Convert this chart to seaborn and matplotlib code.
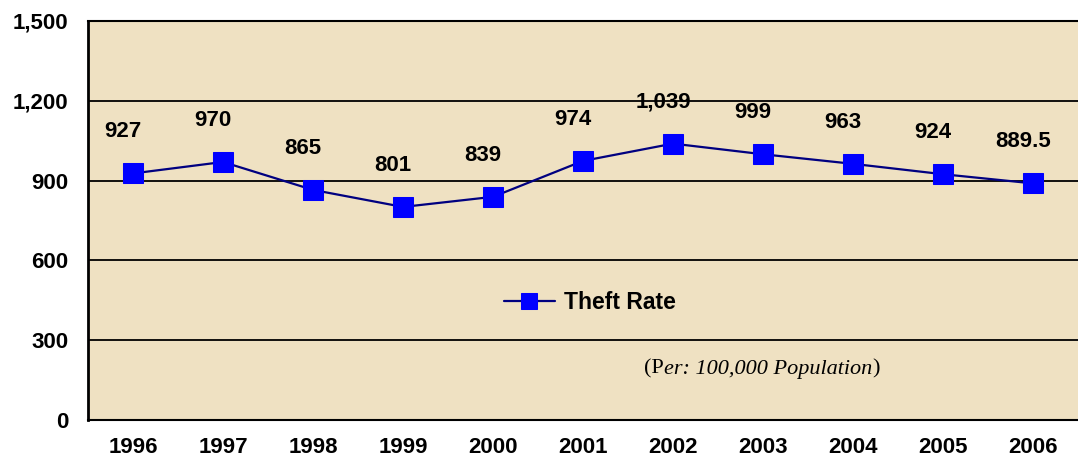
import matplotlib.pyplot as plt
import seaborn as sns
import numpy as np
import pandas as pd

years = ["1996", "1997", "1998", "1999", "2000", "2001", "2002", "2003", "2004", "2005", "2006"]
theft_rate = [927, 970, 865, 801, 839, 974, 1039, 999, 963, 924, 889.5]
point_labels = ["927", "970", "865", "801", "839", "974", "1,039", "999", "963", "924", "889.5"]
y_ticks = [0, 300, 600, 900, 1200, 1500]

df = pd.DataFrame({"pos": np.arange(len(years)), "rate": theft_rate})

sns.set_theme(style="white")
plt.rcParams["font.family"] = ["Liberation Sans", "DejaVu Sans"]
plt.rcParams["text.color"] = "black"
plt.rcParams["xtick.color"] = "black"
plt.rcParams["ytick.color"] = "black"

fig = plt.figure(figsize=(10.78, 4.66), dpi=100)
ax = fig.add_axes([88 / 1078, 1 - 420 / 466, 1 - 88 / 1078, 399 / 466])
ax.set_facecolor("#efe1c2")

for y in y_ticks[1:-1]:
    ax.axhline(y, color="black", lw=1.3, zorder=1)

sns.lineplot(data=df, x="pos", y="rate", ax=ax, color="#000080", lw=1.6,
             marker="s", markersize=15, markerfacecolor="#0000ff",
             markeredgecolor="#0000ff", label="Theft Rate", zorder=3)

# data labels sit a bit left of the markers, like the original
for i, (v, lab) in enumerate(zip(theft_rate, point_labels)):
    ax.annotate(lab, (i, v), xytext=(-7, 30), textcoords="offset points",
                ha="center", va="center", fontsize=16, fontweight="bold")

ax.set_ylim(0, 1500)
ax.set_xlim(-0.49, 10.35)
ax.set_yticks(y_ticks)
ax.set_yticklabels([f"{t:,}" for t in y_ticks], fontsize=16, fontweight="bold")
ax.set_xticks(np.arange(len(years)))
ax.set_xticklabels(years, fontsize=16, fontweight="bold")
ax.set_xticks(np.arange(len(years) + 1) - 0.5, minor=True)
ax.tick_params(axis="x", which="major", length=0, pad=12)
ax.tick_params(axis="x", which="minor", length=4, width=1.5, color="black", direction="out")
ax.tick_params(axis="y", length=6, width=1.3, color="black", direction="out", pad=8)
ax.set_xlabel("")
ax.set_ylabel("")

ax.spines["left"].set_color("black")
ax.spines["left"].set_linewidth(2)
ax.spines["bottom"].set_color("black")
ax.spines["bottom"].set_linewidth(1.5)
ax.spines["bottom"].set_linestyle((0, (1, 1)))
ax.spines["top"].set_color("black")
ax.spines["top"].set_linewidth(1.5)
ax.spines["top"].set_linestyle((0, (1, 1)))
ax.spines["right"].set_visible(False)

leg = ax.legend(loc="center", bbox_to_anchor=(0.507, 0.294), frameon=False,
                prop={"weight": "bold", "size": 16.5}, handlelength=2.2,
                handletextpad=0.4, markerscale=0.8)

t1 = ax.text(0.562, 0.103, "(P", transform=ax.transAxes, fontsize=16,
             family=["Liberation Serif"], ha="left", va="bottom")
t2 = ax.annotate("er: 100,000 Population", xy=(1, 0), xycoords=t1, fontsize=16,
                 family=["Liberation Serif"], style="italic", ha="left", va="bottom")
ax.annotate(")", xy=(1, 0), xycoords=t2, fontsize=16,
            family=["Liberation Serif"], ha="left", va="bottom")

fig.savefig("out.png", dpi=100)
